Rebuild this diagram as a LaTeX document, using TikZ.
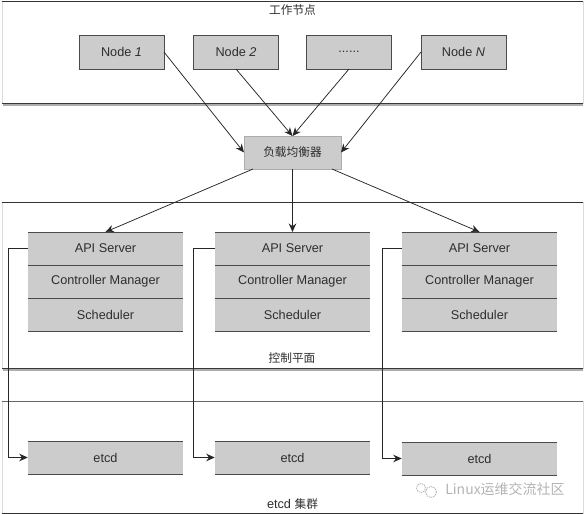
\documentclass[tikz,border=0pt]{standalone}
\usepackage{fontspec}
\setmainfont{Liberation Sans}
\newfontfamily\cjk{Noto Sans CJK SC}
\usetikzlibrary{arrows.meta,calc}
\definecolor{boxfill}{HTML}{CCCCCC}
\definecolor{boxline}{HTML}{4A4A4A}
\definecolor{ink}{HTML}{2E2E2E}
\definecolor{wm}{HTML}{B4B4B4}
\tikzset{
  base/.style={inner sep=0pt,outer sep=0pt,text=ink,font=\fontsize{12.7}{14}\selectfont},
  nodebox/.style={base,draw=boxline,line width=0.8pt,fill=boxfill,minimum width=85pt,minimum height=34pt},
  lbbox/.style={base,fill=boxfill,draw=boxfill!85!black,line width=0.6pt,minimum width=97pt,minimum height=33pt,font=\cjk\fontsize{11.7}{14}\selectfont},
  rowbox/.style={base,fill=boxfill,minimum width=155.5pt,minimum height=33pt},
  sepline/.style={draw=boxline,line width=1pt},
  panel/.style={draw=black!14,line width=0.7pt,fill=white},
  edgetop/.style={draw=black!80,line width=0.8pt},
  edgebottom/.style={draw=black!78,line width=1.2pt},
  edgeshadow/.style={draw=black!32,line width=1.6pt},
  arrowline/.style={draw=black!85,line width=0.75pt,-{Stealth[length=8.5pt,width=7.5pt]}},
  label/.style={base},
  cjklabel/.style={base,font=\cjk\fontsize{11.7}{14}\selectfont},
}
\begin{document}
\begin{tikzpicture}[x=1pt,y=-1pt]
\useasboundingbox (0,0) rectangle (584,514);
% panels
\draw[panel] (2,1) rectangle (583,103);
\draw[edgeshadow] (3,104.8) -- (583,104.8);
\draw[edgetop] (2,1) -- (583,1);
\draw[edgebottom] (2,103.2) -- (583,103.2);
\draw[panel] (2,202) rectangle (583,368);
\draw[edgeshadow] (3,369.8) -- (583,369.8);
\draw[edgetop] (2,202) -- (583,202);
\draw[edgebottom] (2,368.2) -- (583,368.2);
\draw[panel] (2,401) rectangle (583,513);
\draw[edgetop,draw=black!60,line width=1pt] (2,401) -- (583,401);
\draw[edgetop] (2,513) -- (583,513);
% boxes
\node[nodebox] (n1) at (121.5,52) {Node \textit{1}};
\node[nodebox] (n2) at (236,52) {Node \textit{2}};
\node[nodebox] (n3) at (349,52) {......};
\node[nodebox] (n4) at (463.5,52) {Node \textit{N}};
\node[lbbox] (lb) at (292.5,152.5) {负载均衡器};
\foreach \c/\x/\ey in {1/105.5/457.5,2/292.5/457.5,3/479.5/458.5}{
  \node[rowbox] (api\c) at (\x,248.5) {API Server};
  \node[rowbox] (cm\c) at (\x,281.5) {Controller Manager};
  \node[rowbox] (sch\c) at (\x,314.5) {Scheduler};
  \node[rowbox] (etcd\c) at (\x,\ey) {etcd};
  \draw[sepline] (api\c.north west) -- (api\c.north east);
  \draw[sepline] (cm\c.north west) -- (cm\c.north east);
  \draw[sepline] (sch\c.north west) -- (sch\c.north east);
  \draw[sepline] (sch\c.south west) -- (sch\c.south east);
  \draw[sepline] (etcd\c.north west) -- (etcd\c.north east);
  \draw[sepline] (etcd\c.south west) -- (etcd\c.south east);
}
% connectors
\draw[arrowline] (n1.east) -- (lb.west);
\draw[arrowline] (n2.south) -- (lb.north);
\draw[arrowline] (n3.south) -- (lb.north);
\draw[arrowline] (n4.west) -- (lb.east);
\draw[arrowline] ($(lb.south west)+(9,0)$) -- (api1.north);
\draw[arrowline] (lb.south) -- (api2.north);
\draw[arrowline] ($(lb.south east)+(-9,0)$) -- (api3.north);
\draw[arrowline] (api1.west) -- ++(-19,0) |- (etcd1.west);
\draw[arrowline] (api2.west) -- ++(-21,0) |- (etcd2.west);
\draw[arrowline] (api3.west) -- ++(-19,0) |- (etcd3.west);
% labels
\node[cjklabel] (lw) at (292.5,10) {工作节点};
\node[cjklabel] (lc) at (292,358) {控制平面};
\node[label] (le) at (292.5,504.5) {etcd {\cjk\fontsize{11.7}{14}\selectfont 集群}};
% watermark
\node[base,text=wm,font=\cjk\fontsize{14}{16}\selectfont] (wmt) at (505,489.5) {Linux运维交流社区};
\draw[wm,line width=0.8pt,dash pattern=on 1.5pt off 0.8pt] (421,488) circle (4.5pt);
\draw[wm,line width=0.8pt,dash pattern=on 1.5pt off 0.8pt] (431,492) circle (5.5pt);
\end{tikzpicture}
\end{document}
